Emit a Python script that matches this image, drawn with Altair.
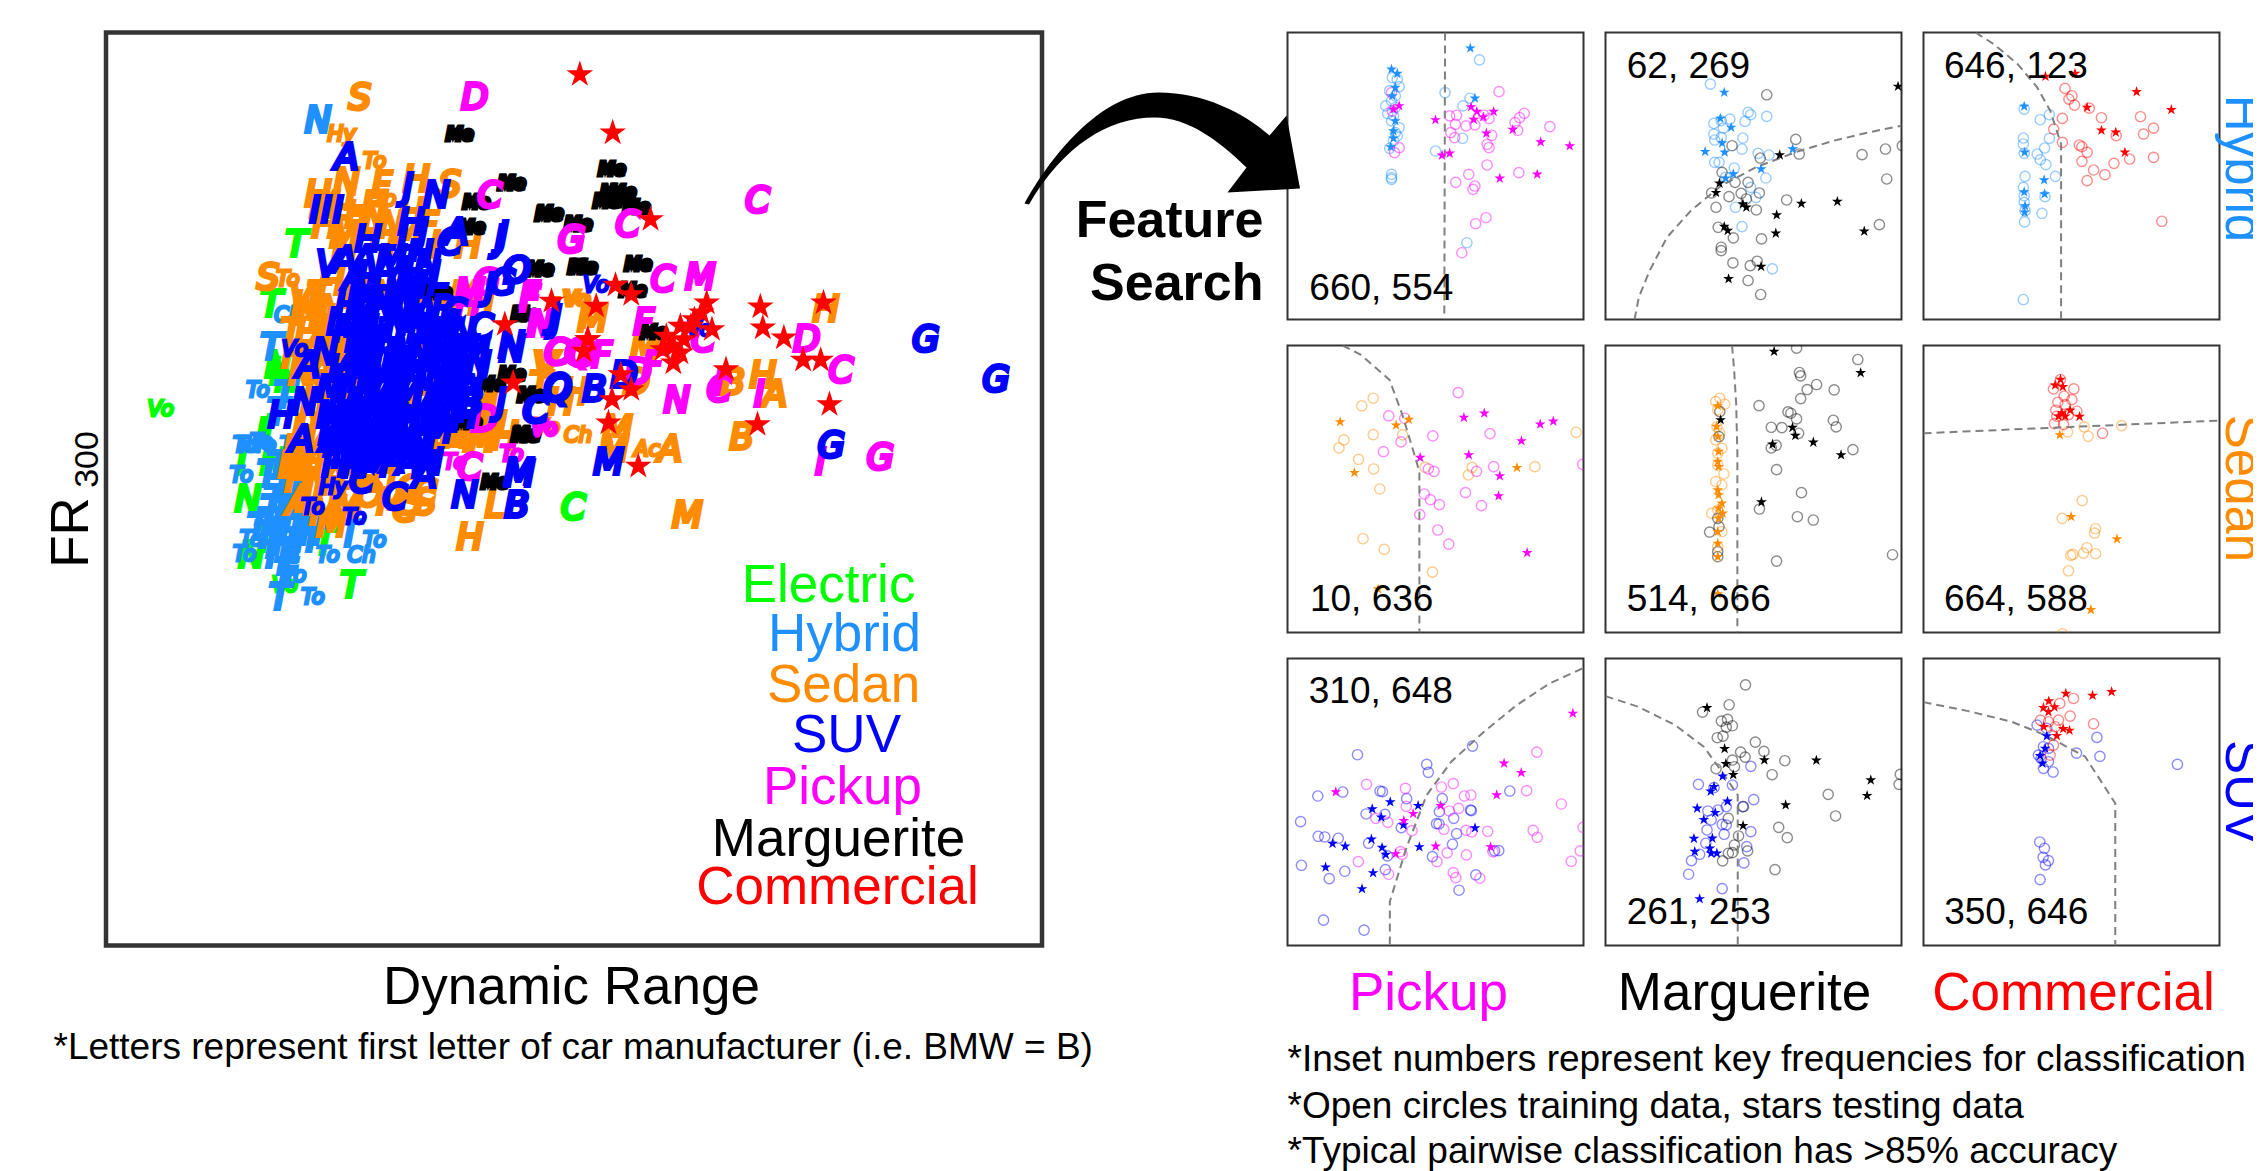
import altair as alt
import pandas as pd

GREEN, HYB, SED, SUV, PICK, MARG, COMM = "#00ff00", "#1e90ff", "#ff8c00", "#0000ff", "#ff00ff", "#000000", "#ff0000"
SANS = "Liberation Sans"
STAR = "M0 -1L0.2245 -0.309L0.951 -0.309L0.363 0.118L0.588 0.809L0 0.382L-0.588 0.809L-0.363 0.118L-0.951 -0.309L-0.2245 -0.309Z"
ARROW = "M-134 63C-110 20 -60 -48 0 -48C45 -48 85 -28 111 -5L128 -25L141.5 48L69 52L88 27C60 0 30 -23 -4 -23C-50 -23 -95 5 -129.5 64Z"

def a(rows): return [(t, 90 + x / 3, 20 + y / 3) for t, x, y in rows]      # upper left
def b(rows): return [(t, 500 + x / 2.851, 20 + y / 3) for t, x, y in rows]  # upper right
def c(rows): return [(t, 90 + x / 3, 400 + y / 3) for t, x, y in rows]      # lower left

ELECTRIC = a([("T",615,675),("T",540,855),("Vo",208,1172),("N",560,1040),("I",550,1060),("N",590,1080),("I",530,1230)]) + c([
    ("N",470,300),("T",780,560),("C",1445,325),("Vo",580,560),("I",450,190),("N",545,190),("N",480,470),("T",700,430),("T",520,420),("I",510,100)])
HYBRID = a([("N",680,305),("Ch",590,890),("To",680,840),("T",540,985),("To",500,1115),("T",580,1130),("T",560,1180),("To",600,1280),("To",470,1280),("To",510,1270)]) + c([
    ("To",450,230),("To",460,140),("To",520,140),("T",530,225),("To",460,465),("T",540,470),("To",480,420),("To",850,425),("T",775,405),("Ch",810,470),
    ("To",710,470),("To",610,530),("To",665,595),("T",565,595),("E",590,490),("T",550,300),("T",600,290),("T",570,340),("T",530,370),("T",620,350),
    ("T",580,390),("T",640,400),("T",520,410),("T",560,430),("T",600,430),("T",650,370),("T",600,240),("T",560,200),("T",600,320),("T",590,460),("T",580,520),
    ("T",540,330),("T",590,360),("T",620,390),("T",660,420),("T",550,400),("T",610,300),("T",640,340),("T",570,270),("T",620,430),("T",540,440),("T",680,400),("T",500,385)])
SEDAN = a([("S",805,235),("Hy",750,345),("To",850,428),("H",975,480),("S",1075,495),("N",765,490),("F",870,500),("H",680,525),("L",790,535),("To",880,540),
    ("H",800,590),("N",850,600),("H",700,620),("M",760,650),("F",750,600),("H",830,640),("T",900,680),("H",960,580),("F",1010,620),("H",1130,680),("I",1030,680),
    ("S",530,775),("To",590,780),("V",630,835),("T",680,830),("H",720,790),("M",660,880),("N",720,870),("H",650,940),("F",710,930),("A",660,1000),("M",720,1000),
    ("T",600,940),("L",770,1060),("N",630,1060),("N",680,1100),("H",720,1130),("H",640,1230),("M",660,1300),("N",620,1340),("H",1180,1150),("J",1150,1240),
    ("M",1090,1250),("H",1170,1260),("E",1050,1250),("S",1130,1240),("H",1240,1250),("H",1010,850),("H",1060,850),("S",1000,1015),("H",990,1125),("M",800,1090),
    ("N",880,830),("H",800,830),("V",1360,1040),("Vo",1460,840),("I",1480,890),("M",1120,830),("H",1170,850),("L",1200,1140),("H",770,1160),("N",660,1180),("A",700,1260),("M",620,1290),
    ("H",640,860),("N",690,900),("M",745,940),("H",610,1010),("A",690,1050),("N",745,1100),("M",700,560),("H",850,560),("N",900,620),("M",950,640),("H",760,690),("N",1100,1220),("M",1200,1220)]) + b([
    ("H",925,870),("M",260,900),("I",150,880),("Vo",210,840),("V",130,1040),("M",410,985),("B",660,1090),("H",745,1070),("A",780,1125),("B",685,1255),
    ("M",330,1230),("M",320,1290),("Ac",415,1290),("A",480,1290),("Ch",218,1250),("Vo",130,1225),("H",170,1150),("H",210,1120),("T",110,1100),("M",530,1490),("D",385,1090)]) + c([
    ("M",720,375),("H",620,240),("N",680,250),("A",620,310),("F",740,300),("M",770,320),("O",835,285),("S",960,310),("C",1000,280),("C",950,270),("H",880,220),
    ("H",800,190),("A",900,170),("H",660,190),("H",1240,115),("M",1170,120),("E",1080,105),("H",1135,415),("L",1210,320),
    ("H",600,200),("N",650,300),("M",700,340),("A",730,230),("H",830,240),("M",900,310),("S",1000,310),("C",940,330)])
MARGUERITE = [("Me",*p[1:]) for p in a([("",1105,345),("",1260,492),("",1155,550),("",1375,582),("",1460,615),("",1140,625),("",1345,750),("",1470,745),("",1300,885),("",1040,820),("",1200,1095),("",1320,1130),("",1300,1250)])
    + b([("",315,452),("",320,520),("",345,520),("",300,548),("",340,545),("",385,565),("",135,585),("",220,617),("",30,492),("",110,750),("",235,745),("",390,735),("",375,815),("",70,885),("",435,940),("",85,1130),("",70,1245),("",30,1065)])
    + c([("",1210,250),("",1305,110),("",1130,70)])]
PICKUP = a([("D",1150,235),("C",1195,530),("G",1440,660),("M",1135,820),("G",1185,790),("H",1130,860),("F",1315,840),("N",1345,915),("C",1395,1000),("Q",1460,1000)]) + b([
    ("C",730,543),("C",360,615),("G",200,663),("C",460,780),("M",567,775),("F",80,830),("F",405,910),("N",115,915),("C",158,1000),("G",228,1005),("F",285,1010),
    ("F",430,1040),("N",500,1145),("C",620,1110),("I",620,1090),("D",870,960),("C",968,1055),("I",735,1125),("G",1080,1315),("I",910,1330),("C",575,960),("Vo",120,1225),("To",30,1305),("D",390,1060)]) + c([
    ("To",1260,165),("Te",1090,190),("C",1135,205),("D",1180,60),("Vo",1360,90)])
SUV_L = a([("A",765,415),("J",950,505),("N",1035,530),("I",670,575),("I",705,575),("I",740,575),("H",830,660),("J",1225,660),("C",1075,670),("A",1095,640),("V",710,735),("A",760,725),
    ("O",1275,755),("G",1235,790),("J",1195,805),("L",1045,770),("N",1260,980),("J",1395,900),("C",1170,925),("I",1090,920),("L",735,910),("Vo",610,990),("N",700,1000),("A",650,1040),
    ("N",640,1150),("H",570,1190),("A",630,1260),("J",1230,1150),("C",1330,1175),("Q",1400,1110),("B",1130,1160),
    ("H",960,610),("J",995,640),("I",935,650),("H",985,705),("E",945,725),("N",1010,735),("A",880,755),("H",835,775),("C",925,785),("T",870,725),("A",790,775),
    ("N",835,845),("J",900,850),("H",950,840),("B",1055,870),("M",800,900),("C",860,900),("N",915,910),("A",975,900),("H",1030,920),("L",790,960),
    ("H",840,960),("N",895,970),("C",950,955),("M",1010,970),("I",1075,950),("H",1125,990),("A",780,1020),("N",835,1030),("J",885,1030),("H",940,1025),("M",1060,1010),("C",1105,1050),("N",1160,1040),
    ("H",760,1080),("M",860,1085),("N",920,1090),("A",975,1070),("H",1040,1075),("B",1100,1110),("L",740,1140),("H",800,1150),("N",860,1150),("C",920,1150),("M",1040,1140),("H",1090,1170),("B",1140,1150),
    ("N",730,1210),("A",790,1215),("H",850,1215),("M",910,1205),("J",970,1190),("N",1020,1210),("H",1070,1200),("M",740,1275),("H",800,1280),("N",860,1275),("A",920,1265),("C",975,1265),("H",730,1335),("N",790,1340),("M",850,1335),("A",905,1325),("H",960,1310),
    ("M",900,720),("N",955,770),("H",1000,790),("A",820,720),("N",810,810),("H",870,810),("A",925,820),("M",965,800),
    ("H",770,860),("N",875,860),("M",935,880),("A",1000,880),("C",1090,880),("M",770,930),("A",815,930),("H",870,930),("J",925,940),("N",985,935),("H",1050,915),("N",1115,940),
    ("M",810,990),("H",870,1000),("A",920,1000),("N",980,990),("B",1040,985),("H",1090,990),("M",1150,1000),("H",750,1050),("A",810,1060),("N",860,1050),("M",915,1050),("H",965,1040),("A",1020,1040),("M",1085,1060),("H",1140,1090),
    ("M",720,1110),("N",780,1110),("H",830,1120),("A",890,1120),("M",950,1120),("H",1010,1105),("N",1070,1110),("A",1130,1110),("A",770,1180),("M",830,1180),("H",890,1180),("N",945,1170),("A",1005,1170),("M",1060,1170),("H",1120,1190),
    ("H",760,1245),("M",820,1245),("A",880,1240),("N",940,1230),("H",995,1230),("M",1040,1235),("N",760,1310),("A",820,1310),("H",880,1300),("M",935,1295),("N",990,1290),("H",720,1240)]) + b([
    ("J",150,890),("G",1210,960),("G",1410,1080),("G",940,1280),("M",305,1330),("M",50,1360),("B",45,1460),("B",265,1110),("Q",160,1105),("C",100,1175),("Vo",270,800),("N",30,990),("O",45,755),("J",5,650),("D",350,1070),("Vo",565,930)]) + c([
    ("C",810,245),("Hy",725,265),("To",665,325),("To",790,355),("A",950,190),("H",1000,200),("A",1000,230),("C",910,295),("I",1040,190),("N",1120,290),("M",1285,225),("B",1275,320),("H",760,130),("N",840,140),("M",800,60),("H",880,80),
    ("M",720,50),("A",760,70),("N",830,90),("H",880,40),("M",940,60),("N",760,170),("A",720,120),("H",820,180)])
COMMERCIAL = a([("",1465,165),("",1380,845),("",1240,915),("",1265,1090),("",1490,960)]) + b([
    ("",317,340),("",425,600),("",325,797),("",370,825),("",270,860),("",585,850),("",738,862),("",918,850),("",745,925),("",805,955),("",245,960),("",235,995),
    ("",340,1065),("",490,1030),("",860,1022),("",910,1022),("",935,1155),("",730,1215),("",315,1140),("",305,1210),("",390,1340),("",370,1110),("",640,1050),
    ("",470,950),("",510,920),("",550,900),("",600,930),("",570,880),("",490,980),("",520,960),("",460,990),("",510,1000),("",540,920)])

LEGEND = [("Electric",GREEN,827,586),("Hybrid",HYB,843,635),("Sedan",SED,842,686),("SUV",SUV,845,736),("Pickup",PICK,841,788),("Marguerite",MARG,837,840),("Commercial",COMM,836,888)]

# ---- inset panels: (frame x, frame y, label, label pos, boundary, circles A, stars A, circles B, stars B)
P11 = dict(dx=[748,1522], dy=[895,35], text="660, 554", tp=(805,805), line=[(1160,35),(1158,895)], ca=HYB, cb=PICK,
 A=[(1250,117),(1160,215),(1225,232),(1207,255),(1135,390),(1217,665),(1206,352),(1020,460),(1020,470),(1020,475),(1005,255),(1010,278),(1022,170),(1035,175),(1040,197),(1015,210),(1030,225),(1020,240),(1030,260),(1025,285),(1040,320),(1020,300),(1030,335),(1025,360),(1015,382),(1035,345)],
 As=[(1226,82),(1238,232),(1020,145),(1035,158),(1030,200),(1022,225),(1030,300),(1025,330),(1025,352),(1018,378)],
 B=[(1301,212),(1190,283),(1172,285),(1187,310),(1275,293),(1262,283),(1215,315),(1238,312),(1175,335),(1185,350),(1282,343),(1270,370),(1275,380),(1343,305),(1355,290),(1367,277),(1350,328),(1434,317),(1270,432),(1353,455),(1222,460),(1188,484),(1238,495),(1233,505),(1267,590),(1240,608),(1204,695),(1040,380),(1028,395),(1020,215),(1022,270)],
 Bs=[(1135,297),(1228,258),(1243,272),(1287,272),(1260,288),(1235,296),(1268,337),(1337,326),(1410,363),(1486,375),(1152,403),(1172,397),(1303,472),(1401,460),(1040,255),(1025,265)])
P12 = dict(dx=[33,716], dy=[897,35], text="62, 269", tp=(82,140), line=[(100,897),(110,830),(135,750),(175,650),(230,570),(300,495),(380,440),(470,395),(560,360),(640,335),(716,315)], ca=HYB, cb=MARG,
 A=[(275,190),(405,287),(362,275),(368,282),(320,295),(355,302),(283,308),(300,300),(283,340),(305,322),(285,358),(350,352),(300,350),(348,385),(385,398),(410,403),(285,425),(295,425),(330,442),(403,472),(368,500),(380,530),(333,560),(348,618),(418,745),(310,470)],
 As=[(307,215),(298,293),(323,320),(302,367),(263,393),(308,395),(465,385),(392,445),(328,460),(310,473)],
 B=[(405,222),(472,356),(325,375),(480,400),(390,412),(625,402),(679,385),(682,475),(302,455),(332,485),(362,485),(388,517),(278,517),(318,528),(346,518),(358,535),(288,560),(381,568),(451,538),(293,620),(665,612),(328,652),(393,655),(300,680),(300,690),(327,727),(367,735),(383,722),(362,780),(391,822),(718,375)],
 Bs=[(435,403),(296,488),(288,516),(350,550),(358,560),(485,549),(568,543),(428,583),(307,618),(315,630),(426,638),(630,632),(392,738),(317,775),(708,197)])
P13 = dict(dx=[768,1450], dy=[897,35], text="646, 123", tp=(815,140), line=[(888,35),(930,70),(985,130),(1030,200),(1060,270),(1085,370),(1085,897)], ca=HYB, cb=COMM,
 A=[(1000,265),(1058,282),(1037,297),(998,352),(1058,353),(998,370),(1047,382),(1000,398),(1030,400),(1037,417),(1050,432),(1002,467),(1072,467),(998,500),(1000,525),(1048,528),(1000,545),(1002,570),(1041,578),(1001,604),(998,837)],
 As=[(1000,257),(1001,395),(1046,478),(1000,514),(1047,520),(1002,556),(1001,575)],
 B=[(1094,203),(1110,225),(1103,235),(1116,253),(1150,262),(1178,291),(1088,293),(1068,325),(1088,365),(1268,288),(1298,322),(1275,340),(1212,345),(1127,373),(1133,378),(1145,395),(1133,422),(1243,415),(1298,410),(1207,428),(1160,448),(1186,462),(1145,480),(1317,602)],
 Bs=[(1049,167),(1117,158),(1259,213),(1145,260),(1339,267),(1178,329),(1211,335),(1232,395)])
P21 = dict(dx=[40,765], dy=[887,27], text="10, 636", tp=(95,790), line=[(175,27),(220,55),(290,130),(320,230),(345,330),(363,405),(363,887)], ca=SED, cb=PICK,
 A=[(250,185),(222,208),(178,310),(166,334),(250,294),(322,295),(214,368),(251,397),(266,457),(377,392),(492,392),(483,415),(646,390),(747,287),(225,606),(277,638),(395,706)],
 As=[(169,256),(306,266),(337,249),(204,408),(602,393),(262,757)],
 B=[(458,168),(288,238),(327,245),(396,298),(536,291),(318,316),(275,345),(385,397),(399,404),(503,404),(545,390),(375,472),(390,489),(476,468),(412,504),(515,507),(364,534),(408,580),(435,622),(763,383)],
 Bs=[(472,243),(522,230),(659,263),(691,254),(613,313),(365,363),(484,355),(560,418),(557,478),(627,648)])
P22 = dict(dx=[820,1545], dy=[887,27], text="514, 666", tp=(872,790), line=[(1130,27),(1135,100),(1140,200),(1143,350),(1143,887)], ca=SED, cb=MARG,
 A=[(1100,185),(1090,195),(1112,203),(1095,220),(1093,270),(1100,290),(1090,310),(1105,335),(1095,350),(1095,385),(1110,412),(1090,435),(1105,445),(1080,530),(1095,520),(1105,585),(1095,630)],
 As=[(1095,208),(1092,270),(1095,300),(1097,345),(1095,375),(1097,390),(1095,460),(1097,475),(1105,500),(1097,515),(1107,530),(1097,545),(1095,585),(1095,620),(1095,660),(1095,772)],
 B=[(1288,35),(1438,69),(1295,108),(1298,118),(1337,144),(1380,160),(1314,159),(1298,186),(1196,207),(1267,226),(1274,230),(1288,247),(1378,251),(1385,271),(1226,272),(1252,273),(1293,290),(1238,326),(1226,334),(1426,339),(1239,399),(1300,468),(1197,517),(1290,540),(1329,550),(1239,673),(1523,654),(1100,225),(1098,300),(1095,545),(1098,570),(1075,586),(1095,645),(1095,660)],
 Bs=[(1233,45),(1445,109),(1102,250),(1278,273),(1285,297),(1329,317),(1229,323),(1397,355),(1202,496)])
P23 = dict(dx=[66,952], dy=[888,28], text="664, 588", tp=(127,792), line=[(66,291),(952,253)], ca=SED, cb=COMM,
 A=[(497,287),(547,272),(559,300),(659,268),(541,493),(481,546),(581,577),(578,590),(555,634),(545,650),(581,652),(513,654),(507,657),(500,703),(482,892)],
 As=[(474,296),(508,541),(645,608),(567,820)],
 B=[(476,130),(455,158),(516,158),(487,180),(510,190),(468,198),(490,205),(462,222),(525,225),(465,240),(500,235),(458,262),(485,265),(602,291)],
 Bs=[(476,130),(460,147),(483,152),(505,222),(480,230),(470,240),(490,240),(533,241)])
P31 = dict(dx=[40,763], dy=[882,20], text="310, 648", tp=(92,120), line=[(760,50),(680,95),(600,160),(520,240),(440,330),(380,430),(330,590),(290,750),(290,882)], ca=SUV, cb=PICK,
 A=[(492,283),(211,309),(380,338),(384,362),(114,433),(175,421),(266,418),(272,420),(331,441),(418,441),(583,418),(232,487),(278,488),(411,480),(446,500),(487,475),(489,477),(72,510),(318,528),(404,516),(410,517),(115,554),(131,556),(164,560),(238,575),(453,546),(443,578),(394,615),(546,598),(556,597),(74,641),(284,613),(180,659),(142,681),(279,654),(500,670),(459,716),(128,806),(227,836)],
 As=[(291,451),(247,472),(359,462),(269,497),(323,520),(498,529),(245,563),(150,576),(181,584),(271,588),(280,609),(362,586),(133,647),(249,664),(222,712)],
 B=[(649,301),(233,398),(328,410),(416,406),(445,396),(472,433),(488,430),(624,417),(709,457),(330,464),(458,470),(435,478),(256,500),(285,512),(344,537),(422,533),(476,536),(490,541),(529,539),(640,536),(650,557),(762,527),(430,604),(477,610),(316,600),(320,608),(213,630),(405,630),(542,601),(733,629),(755,598),(287,668),(445,663),(451,678),(510,680)],
 Bs=[(737,185),(569,335),(611,363),(551,430),(158,421),(414,462),(347,486),(324,507),(402,584),(536,586),(304,607)])
P32 = dict(dx=[820,1543], dy=[882,20], text="261, 253", tp=(872,785), line=[(820,133),(900,165),(990,220),(1060,285),(1110,370),(1143,430),(1143,882)], ca=SUV, cb=MARG,
 A=[(1175,344),(1047,398),(1085,408),(1182,444),(1070,478),(1095,475),(1115,465),(1155,465),(1078,505),(1105,518),(1115,520),(1068,535),(1110,548),(1175,540),(1065,575),(1165,585),(1050,608),(1030,627),(1158,634),(1023,668),(1105,711),(1130,400)],
 As=[(1106,374),(1085,405),(1077,419),(1118,449),(1044,470),(1088,483),(1060,504),(1036,561),(1081,560),(1075,590),(1038,600),(1078,605),(1092,605),(1050,742)],
 B=[(1162,99),(1122,159),(1057,181),(1103,208),(1118,203),(1130,222),(1115,226),(1093,258),(1107,253),(1186,271),(1207,299),(1150,301),(1161,316),(1258,327),(1130,325),(1135,345),(1090,351),(1227,369),(1540,368),(1537,398),(1364,428),(1157,465),(1382,493),(1120,500),(1243,527),(1145,553),(1264,558),(1135,580),(1130,603),(1167,598),(1120,605),(1106,628),(1234,654)],
 Bs=[(1068,168),(1111,291),(1208,325),(1335,326),(1114,336),(1132,369),(1468,385),(1459,432),(1260,460),(1156,522)])
P33 = dict(dx=[66,952], dy=[882,20], text="350, 646", tp=(128,785), line=[(66,151),(200,178),(330,210),(430,250),(550,315),(640,455),(640,882)], ca=SUV, cb=COMM,
 A=[(406,220),(585,257),(524,304),(594,314),(826,338),(425,285),(410,310),(440,290),(418,320),(440,330),(425,350),(454,361),(435,230),(414,571),(428,590),(424,617),(440,627),(431,640),(415,684)],
 As=[(435,253),(430,290),(415,312),(422,335)],
 B=[(515,140),(474,155),(505,193),(470,205),(416,205),(440,210),(575,216),(460,225),(450,250),(455,280),(445,310)],
 Bs=[(492,125),(572,131),(629,120),(441,148),(425,168),(458,166),(440,180),(426,225),(484,231),(503,236),(465,252)])


def note(s, px, py, size=37, color="#000", align="left", angle=0, baseline="middle", weight="normal"):
    return alt.Chart(pd.DataFrame({"t": [s]})).mark_text(
        font=SANS, fontSize=size, color=color, align=align, angle=angle, baseline=baseline, fontWeight=weight
    ).encode(x=alt.value(px), y=alt.value(py), text="t:N")


# ---- overview
L_X, L_Y = [104.5, 1040.5], [946, 33]
lx = alt.X("x:Q", scale=alt.Scale(domain=L_X, nice=False, zero=False), axis=None)
ly = alt.Y("y:Q", scale=alt.Scale(domain=L_Y, nice=False, zero=False), axis=None)


def letters(rows, color):
    d = pd.DataFrame(rows, columns=["t", "x", "y"])
    d["fs"] = [18 if t == "Me" else 21 if len(t) > 1 else 35 for t in d["t"]]
    d["sw"] = [5 if t == "Me" else 3 if len(t) > 1 else 4 for t in d["t"]]
    return alt.Chart(d).mark_text(font="DejaVu Sans", fontStyle="italic", color=color, stroke=color,
                                  align="center", baseline="middle").encode(
        x=lx, y=ly, text="t:N", size=alt.Size("fs:Q", scale=None, legend=None),
        strokeWidth=alt.StrokeWidth("sw:Q", scale=None, legend=None))


stars_big = alt.Chart(pd.DataFrame(COMMERCIAL, columns=["t", "x", "y"])).mark_point(
    shape=STAR, filled=True, size=784, color=COMM, opacity=1, strokeWidth=0).encode(x=lx, y=ly)

left_layers = [letters(ELECTRIC, GREEN), letters(HYBRID, HYB), letters(SEDAN, SED), letters(MARGUERITE, MARG),
               letters(PICKUP, PICK), letters(SUV_L, SUV), stars_big]
left_layers += [note(t, px - L_X[0], py - L_Y[1], 53, col, "center") for t, col, px, py in LEGEND]
left_layers += [
    note("FR", 86 - L_X[0], 533 - L_Y[1], 53, align="center", angle=270, baseline="alphabetic"),
    note("300", 96 - L_X[0], 460 - L_Y[1], 34, align="center", angle=270, baseline="alphabetic"),
    note("Dynamic Range", 570 - L_X[0], 988 - L_Y[1], 53, align="center"),
    note("*Letters represent first letter of car manufacturer (i.e. BMW = B)", 52 - L_X[0], 1048 - L_Y[1]),
]
left = alt.layer(*left_layers).properties(width=936, height=913,
                                          view=alt.ViewBackground(stroke="#333333", strokeWidth=4.5))


# ---- insets
def inset(p, extra=()):
    xs = alt.X("x:Q", scale=alt.Scale(domain=p["dx"], nice=False, zero=False), axis=None)
    ys = alt.Y("y:Q", scale=alt.Scale(domain=p["dy"], nice=False, zero=False), axis=None)
    def frame(pts): return pd.DataFrame(pts, columns=["x", "y"])
    def circ(pts, col):
        return alt.Chart(frame(pts)).mark_point(shape="circle", filled=False, size=105, color=col, opacity=0.45,
                                                strokeWidth=1.4, clip=True).encode(x=xs, y=ys)
    def star(pts, col):
        return alt.Chart(frame(pts)).mark_point(shape=STAR, filled=True, size=130, color=col, opacity=1,
                                                strokeWidth=0, clip=True).encode(x=xs, y=ys)
    bd = frame(p["line"]).reset_index()
    line = alt.Chart(bd).mark_line(color="#808080", strokeWidth=2, strokeDash=[8, 5], clip=True).encode(
        x=xs, y=ys, order="index:Q")
    lab = alt.Chart(pd.DataFrame({"x": [p["tp"][0]], "y": [p["tp"][1]], "t": [p["text"]]})).mark_text(
        font=SANS, fontSize=37, align="left", baseline="middle", color="#000").encode(x=xs, y=ys, text="t:N")
    return alt.layer(circ(p["A"], p["ca"]), circ(p["B"], p["cb"]), line, star(p["As"], p["ca"]), star(p["Bs"], p["cb"]),
                     lab, *extra).properties(width=296, height=287,
                                             view=alt.ViewBackground(stroke="#333333", strokeWidth=2))


arrow = alt.Chart(pd.DataFrame({"k": [1]})).mark_point(shape=ARROW, filled=True, size=4, color="#000", opacity=1,
                                                       strokeWidth=0).encode(x=alt.value(1157 - 1286), y=alt.value(140 - 32))

p11 = inset(P11, [arrow, note("Feature", -24, 188, 52, align="right", weight="bold"),
                  note("Search", -24, 251, 52, align="right", weight="bold")])
p12 = inset(P12)
p13 = inset(P13, [note("Hybrid", 302, 136, 51, HYB, "center", 90, "alphabetic")])
p21 = inset(P21)
p22 = inset(P22)
p23 = inset(P23, [note("Sedan", 302, 143, 51, SED, "center", 90, "alphabetic")])
p31 = inset(P31, [note("Pickup", 1427 - 1286, 992 - 657, 53, PICK, "center"),
                  note("*Inset numbers represent key frequencies for classification", 0, 1058 - 657),
                  note("*Open circles training data, stars testing data", 0, 1105 - 657),
                  note("*Typical pairwise classification has >85% accuracy", 0, 1150 - 657)])
p32 = inset(P32, [note("Marguerite", 1743 - 1604, 992 - 657, 53, MARG, "center")])
p33 = inset(P33, [note("Commercial", 2072 - 1922, 992 - 657, 53, COMM, "center"),
                  note("SUV", 302, 134, 51, SUV, "center", 90, "alphabetic")])

grid = alt.concat(p11, p12, p13, p21, p22, p23, p31, p32, p33, columns=3, spacing={"row": 26, "column": 22}, bounds="flush")

chart = alt.hconcat(left, grid, spacing=245.5, bounds="flush").properties(
    padding={"left": 35, "top": 21.5, "right": -15, "bottom": 0}
).configure_view(stroke=None).configure(background="white")

chart.save("out.html", embed_options={"renderer": "svg", "actions": False})
